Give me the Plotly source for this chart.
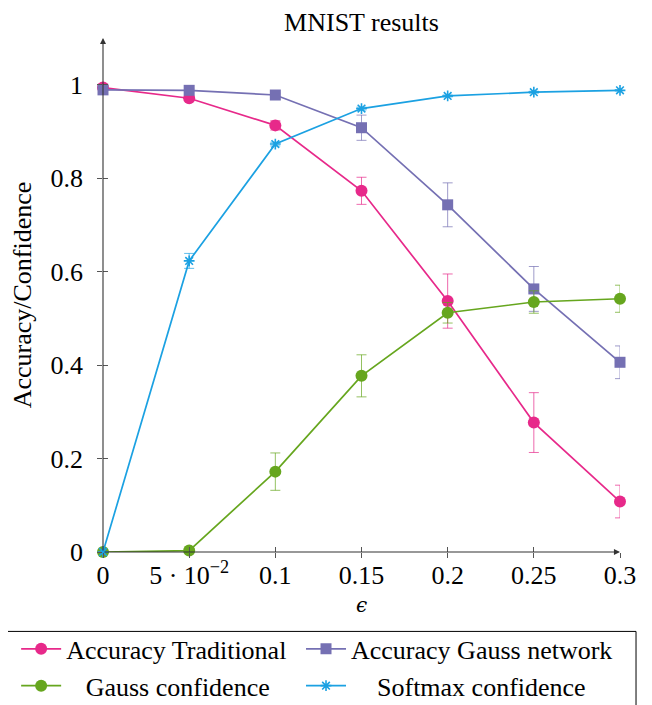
import plotly.graph_objects as go

eps = [0, 0.05, 0.1, 0.15, 0.2, 0.25, 0.3]
acc_trad = [0.994, 0.971, 0.913, 0.773, 0.537, 0.277, 0.108]
acc_trad_err = [0.004, 0.004, 0.010, 0.029, 0.058, 0.064, 0.035]
acc_gauss = [0.989, 0.988, 0.978, 0.908, 0.743, 0.563, 0.406]
acc_gauss_err = [0.002, 0.003, 0.004, 0.027, 0.047, 0.048, 0.035]
gauss_conf = [0.0, 0.003, 0.172, 0.377, 0.512, 0.535, 0.542]
gauss_conf_err = [0.0, 0.002, 0.040, 0.045, 0.022, 0.024, 0.029]
softmax_conf = [0.0, 0.623, 0.873, 0.949, 0.976, 0.984, 0.988]
softmax_conf_err = [0.0, 0.016, 0.004, 0.003, 0.002, 0.002, 0.001]

x_tickvals = [0, 0.05, 0.1, 0.15, 0.2, 0.25, 0.3]
x_ticktext = ["0", "5 · 10<sup>−2</sup>", "0.1", "0.15", "0.2", "0.25", "0.3"]
y_tickvals = [0, 0.2, 0.4, 0.6, 0.8, 1.0]
y_ticktext = ["0", "0.2", "0.4", "0.6", "0.8", "1"]

PINK = "#E7298A"
PURPLE = "#7570B3"
GREEN = "#66A61E"
BLUE = "#1BA1E2"

def fade(hex_col, a=0.7):
    h = hex_col.lstrip("#")
    r, g, b = int(h[0:2], 16), int(h[2:4], 16), int(h[4:6], 16)
    return f"rgba({r},{g},{b},{a})"

FONT = "Liberation Serif, DejaVu Serif, serif"
FS = 26
NB = "\u00a0"

# name, values, errors, colour, symbol, size, legend column
series = [
    ("Accuracy Traditional", acc_trad, acc_trad_err, PINK, "circle", 12, "legend"),
    ("Accuracy Gauss network", acc_gauss, acc_gauss_err, PURPLE, "square", 11, "legend2"),
    (NB * 3 + "Gauss confidence", gauss_conf, gauss_conf_err, GREEN, "circle", 12, "legend"),
    (NB * 4 + "Softmax confidence", softmax_conf, softmax_conf_err, BLUE, "asterisk-open", 9, "legend2"),
]

fig = go.Figure()
for name, vals, err, col, sym, size, leg in series:
    fig.add_trace(go.Scatter(
        x=eps, y=vals, name=name, mode="lines+markers", legend=leg,
        line=dict(color=col, width=1.7),
        marker=dict(symbol=sym, size=size, color=col,
                    line=dict(color=col, width=1.6 if sym.startswith("asterisk") else 0)),
        error_y=dict(type="data", array=err, visible=True, color=fade(col),
                     thickness=1, width=5),
        cliponaxis=False,
    ))

# dummy trace for the outer tick overlay axes
fig.add_trace(go.Scatter(x=[None], y=[None], xaxis="x2", yaxis="y2",
                         showlegend=False, hoverinfo="skip"))

axis_common = dict(showgrid=False, zeroline=False, showline=False,
                   ticks="inside", ticklen=5, tickcolor="#555", tickwidth=1,
                   tickfont=dict(family=FONT, size=FS, color="black"))

legend_common = dict(orientation="v", xanchor="left", y=-0.1429, yanchor="top",
                     borderwidth=0, bgcolor="rgba(0,0,0,0)",
                     font=dict(family=FONT, size=FS, color="black"),
                     tracegroupgap=0, itemwidth=40, traceorder="normal")

# layout: the page adds an 8px body margin, so the figure sits at (8, 8)
fig.update_layout(
    width=652, height=705,
    margin=dict(l=95, r=40, t=30, b=160.5, autoexpand=False),
    plot_bgcolor="white", paper_bgcolor="white",
    title=dict(text="MNIST results", x=0.5, xref="paper", xanchor="center",
               y=1 - 14 / 705, yanchor="middle",
               font=dict(family=FONT, size=FS, color="black")),
    xaxis=dict(range=[0, 0.3], tickmode="array", tickvals=x_tickvals,
               ticktext=x_ticktext, ticklabelstandoff=5,
               title=dict(text="<i>ϵ</i>", font=dict(family="DejaVu Serif", size=20, color="black"),
                          standoff=8),
               **axis_common),
    yaxis=dict(range=[0, 1.1], tickmode="array", tickvals=y_tickvals,
               ticktext=y_ticktext, ticklabelstandoff=19,
               title=dict(text="Accuracy/Confidence", font=dict(family=FONT, size=FS, color="black"),
                          standoff=11),
               **axis_common),
    xaxis2=dict(overlaying="x", matches="x", anchor="y", side="bottom",
                tickmode="array", tickvals=x_tickvals, showticklabels=False,
                ticks="outside", ticklen=5, tickcolor="#555", showgrid=False,
                zeroline=False, showline=False),
    yaxis2=dict(overlaying="y", matches="y", anchor="x", side="left",
                tickmode="array", tickvals=y_tickvals, showticklabels=False,
                ticks="outside", ticklen=5, tickcolor="#555", showgrid=False,
                zeroline=False, showline=False),
    legend=dict(x=-0.168, **legend_common),
    legend2=dict(x=0.383, **legend_common),
    showlegend=True,
)

# legend frame
fig.add_shape(type="rect", xref="paper", yref="paper",
              x0=-0.1876, x1=1.031, y0=-0.1545, y1=-0.33,
              line=dict(color="black", width=1), fillcolor="rgba(0,0,0,0)", layer="below")

# axis lines with arrows (pgfplots style)
fig.add_annotation(x=0, y=1.1, ax=0, ay=0, xref="x", yref="y", axref="x", ayref="y",
                   showarrow=True, arrowhead=2, arrowsize=1.1, arrowwidth=1.1,
                   arrowcolor="#333", text="")
fig.add_annotation(x=0.3, y=0, ax=0, ay=0, xref="x", yref="y", axref="x", ayref="y",
                   showarrow=True, arrowhead=2, arrowsize=1.1, arrowwidth=1.1,
                   arrowcolor="#333", text="")

fig.write_html("out.html")
